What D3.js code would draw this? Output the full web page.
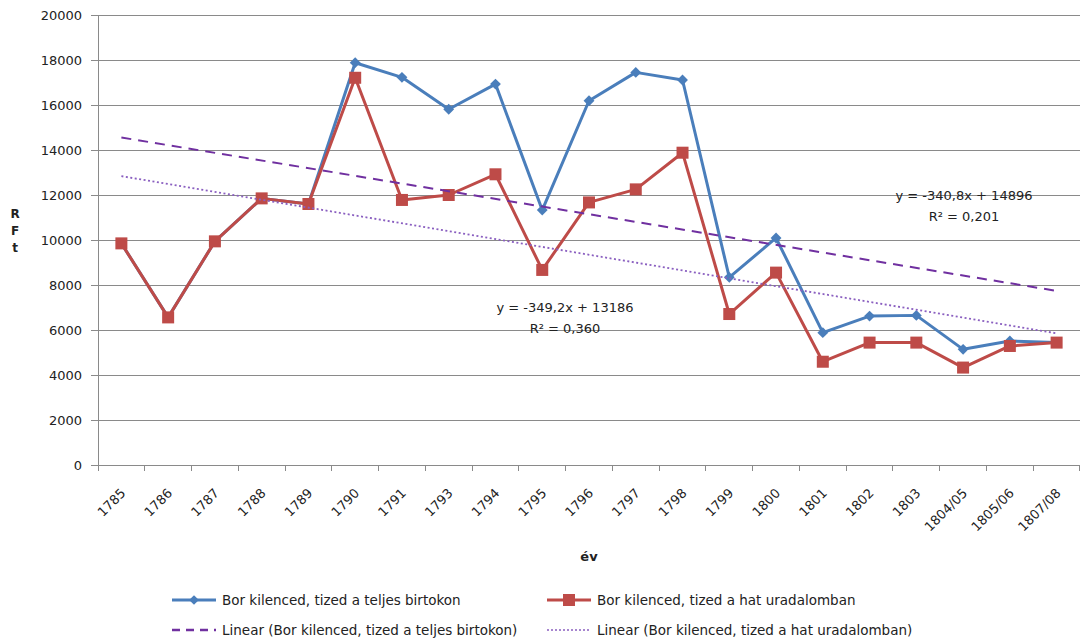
<!DOCTYPE html>
<html>
<head>
<meta charset="utf-8">
<script src="https://cdn.jsdelivr.net/npm/d3@7"></script>
<style>
  body { margin: 0; background: #fff; }
  svg { display: block; font-family: "DejaVu Sans", sans-serif; }
</style>
</head>
<body>
<script>
// categories (years)
let years = ['1785', '1786', '1787', '1788', '1789', '1790', '1791', '1793', '1794', '1795',
  '1796', '1797', '1798', '1799', '1800', '1801', '1802', '1803', '1804/05', '1805/06', '1807/08']

// Bor kilenced, tized a teljes birtokon
let teljes = [9850, 6560, 9940, 11850, 11600, 17880, 17230, 15810, 16930, 11330,
  16190, 17450, 17110, 8340, 10090, 5880, 6620, 6650, 5140, 5510, 5440]

// Bor kilenced, tized a hat uradalomban
let hat = [9850, 6560, 9940, 11850, 11600, 17210, 11780, 12000, 12920, 8670,
  11670, 12250, 13880, 6710, 8550, 4590, 5440, 5440, 4330, 5290, 5440]

// trendline coefficients (y = a*x + b, x = 1..21)
let trendSlope = [-340.8, -349.2]
let trendIntercept = [14896, 13186]
let trendLabels = [['y = -340,8x + 14896', 'R² = 0,201'], ['y = -349,2x + 13186', 'R² = 0,360']]

let yTicks = [0, 2000, 4000, 6000, 8000, 10000, 12000, 14000, 16000, 18000, 20000]

let seriesNames = ['Bor kilenced, tized a teljes birtokon', 'Bor kilenced, tized a hat uradalomban']

let W = 1080, H = 639
let margin = { left: 98, top: 15, right: 0, bottom: 174 }

let svg = d3.select('body').append('svg').attr('width', W).attr('height', H)

let x = d3.scaleBand().domain(years).range([margin.left, W - margin.right]).padding(0)
let y = d3.scaleLinear().domain([0, 20000]).range([H - margin.bottom, margin.top])
let cx = d => x(d) + x.bandwidth() / 2

let blue = '#4a7ebb', red = '#be4b48', axisGrey = '#8a8a8a', ink = '#222'

// gridlines
svg.append('g').selectAll('line').data(yTicks.filter(d => d > 0)).enter()
  .append('line')
  .attr('x1', margin.left).attr('x2', W - margin.right)
  .attr('y1', d => y(d)).attr('y2', d => y(d))
  .attr('stroke', axisGrey).attr('stroke-width', 1)
  .attr('shape-rendering', 'crispEdges')

// y axis
let yAxis = svg.append('g')
  .attr('transform', `translate(${margin.left},0)`)
  .call(d3.axisLeft(y).tickValues(yTicks).tickSize(7).tickPadding(9).tickFormat(d3.format('d')))
yAxis.selectAll('line, path').attr('stroke', axisGrey).attr('shape-rendering', 'crispEdges')
yAxis.select('.domain').attr('d', `M0,${y(20000)}V${y(0)}`)
yAxis.selectAll('text').attr('font-size', 13).attr('fill', ink).attr('font-family', 'DejaVu Sans')

// x axis
let xg = svg.append('g').attr('transform', `translate(0,${y(0)})`)
xg.append('line').attr('x1', margin.left).attr('x2', W - margin.right)
  .attr('stroke', axisGrey).attr('shape-rendering', 'crispEdges')
xg.selectAll('.tk').data(years.map(d => x(d)).concat([W - margin.right - 1])).enter()
  .append('line').attr('class', 'tk')
  .attr('x1', d => d).attr('x2', d => d).attr('y1', 0).attr('y2', 6)
  .attr('stroke', axisGrey).attr('shape-rendering', 'crispEdges')
xg.selectAll('text').data(years).enter()
  .append('text')
  .attr('transform', d => `translate(${cx(d) + 5},${29}) rotate(-45)`)
  .attr('text-anchor', 'end')
  .attr('font-size', 13).attr('fill', ink)
  .text(d => d)

// axis titles
svg.append('text').attr('x', (margin.left + W - margin.right) / 2).attr('y', 561).attr('text-anchor', 'middle')
  .attr('font-size', 13).attr('font-weight', 'bold').attr('fill', ink).text('év')
svg.append('g').selectAll('text').data(['R', 'F', 't']).enter()
  .append('text')
  .attr('x', 15).attr('y', (d, i) => 218 + i * 17)
  .attr('text-anchor', 'middle')
  .attr('font-size', 12).attr('font-weight', 'bold').attr('fill', ink)
  .text(d => d)

// series lines
let line = d3.line().x((d, i) => cx(years[i])).y(d => y(d))
svg.append('path').datum(teljes).attr('d', line)
  .attr('fill', 'none').attr('stroke', blue).attr('stroke-width', 3).attr('stroke-linejoin', 'round')
svg.append('g').selectAll('path').data(teljes).enter()
  .append('path')
  .attr('d', d3.symbol(d3.symbolDiamond2, 75))
  .attr('transform', (d, i) => `translate(${cx(years[i])},${y(d)})`)
  .attr('fill', blue)

svg.append('path').datum(hat).attr('d', line)
  .attr('fill', 'none').attr('stroke', red).attr('stroke-width', 3).attr('stroke-linejoin', 'round')
svg.append('g').selectAll('rect').data(hat).enter()
  .append('rect')
  .attr('x', (d, i) => cx(years[i]) - 6).attr('y', d => y(d) - 6)
  .attr('width', 12).attr('height', 12)
  .attr('fill', red)

// trendlines
let trendStyle = [
  { stroke: '#7030a0', width: 2, dash: '10,7' },
  { stroke: '#8a5fc0', width: 1.8, dash: '2,2.5' }
]
trendSlope.forEach((a, k) => {
  let b = trendIntercept[k]
  let first = 1, last = years.length
  svg.append('line')
    .attr('x1', cx(years[0])).attr('y1', y(a * first + b))
    .attr('x2', cx(years[last - 1])).attr('y2', y(a * last + b))
    .attr('stroke', trendStyle[k].stroke).attr('stroke-width', trendStyle[k].width)
    .attr('stroke-dasharray', trendStyle[k].dash)
})

// trendline labels
let labelPos = [[964, 200], [565, 312]]
trendLabels.forEach((lbl, k) => {
  svg.append('g').selectAll('text').data(lbl).enter()
    .append('text')
    .attr('x', labelPos[k][0]).attr('y', (d, i) => labelPos[k][1] + i * 21)
    .attr('text-anchor', 'middle').attr('font-size', 13).attr('fill', ink)
    .text(d => d)
})

// legend
let legend = [
  { name: seriesNames[0], color: blue, kind: 'diamond', x: 172, y: 600 },
  { name: seriesNames[1], color: red, kind: 'square', x: 547, y: 600 },
  { name: 'Linear (' + seriesNames[0] + ')', color: trendStyle[0].stroke, kind: 'dash', x: 172, y: 630 },
  { name: 'Linear (' + seriesNames[1] + ')', color: trendStyle[1].stroke, kind: 'dot', x: 547, y: 630 }
]
let lg = svg.append('g').selectAll('g').data(legend).enter().append('g')
  .attr('transform', d => `translate(${d.x},${d.y})`)
lg.append('line').attr('x1', 0).attr('x2', 44).attr('y1', 0).attr('y2', 0)
  .attr('stroke', d => d.color)
  .attr('stroke-width', d => d.kind === 'dot' ? 1.5 : (d.kind === 'dash' ? 2.5 : 3))
  .attr('stroke-dasharray', d => d.kind === 'dash' ? '8,6' : (d.kind === 'dot' ? '2,2' : null))
lg.filter(d => d.kind === 'diamond').append('path')
  .attr('d', d3.symbol(d3.symbolDiamond2, 60)).attr('transform', 'translate(22,0)')
  .attr('fill', d => d.color)
lg.filter(d => d.kind === 'square').append('rect')
  .attr('x', 16).attr('y', -6).attr('width', 12).attr('height', 12)
  .attr('fill', d => d.color)
lg.append('text').attr('x', 50).attr('y', 5)
  .attr('font-size', 13.5).attr('fill', ink)
  .text(d => d.name)
</script>
</body>
</html>
